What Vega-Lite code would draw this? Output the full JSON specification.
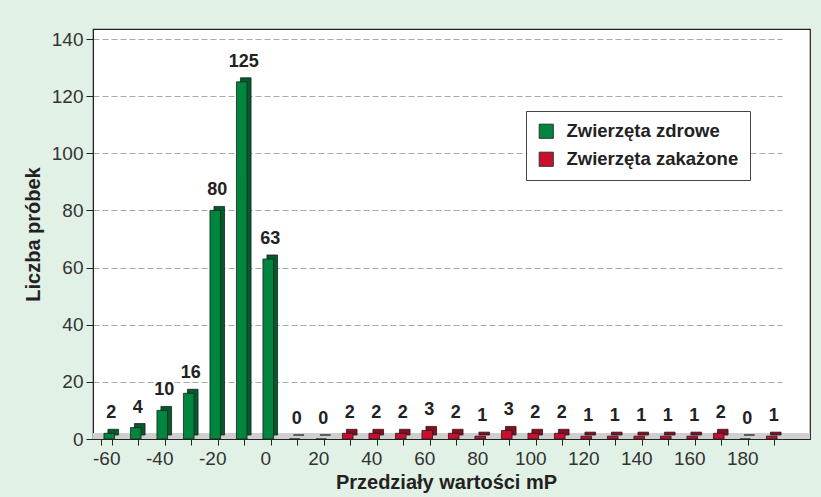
{
  "$schema": "https://vega.github.io/schema/vega-lite/v6.json",
  "autosize": {"type": "none"},
  "width": 717,
  "height": 410,
  "padding": {"left": 93, "top": 29, "right": 11, "bottom": 58},
  "background": "#e2f1e6",
  "config": {
    "font": "Liberation Sans",
    "view": {"fill": "white", "stroke": "#222222", "strokeWidth": 1.2}
  },
  "data": {
    "values": [
      {"bin": -60, "count": 2, "group": "Zwierzęta zdrowe"},
      {"bin": -50, "count": 4, "group": "Zwierzęta zdrowe"},
      {"bin": -40, "count": 10, "group": "Zwierzęta zdrowe"},
      {"bin": -30, "count": 16, "group": "Zwierzęta zdrowe"},
      {"bin": -20, "count": 80, "group": "Zwierzęta zdrowe"},
      {"bin": -10, "count": 125, "group": "Zwierzęta zdrowe"},
      {"bin": 0, "count": 63, "group": "Zwierzęta zdrowe"},
      {"bin": 10, "count": 0, "group": "Zwierzęta zakażone"},
      {"bin": 20, "count": 0, "group": "Zwierzęta zakażone"},
      {"bin": 30, "count": 2, "group": "Zwierzęta zakażone"},
      {"bin": 40, "count": 2, "group": "Zwierzęta zakażone"},
      {"bin": 50, "count": 2, "group": "Zwierzęta zakażone"},
      {"bin": 60, "count": 3, "group": "Zwierzęta zakażone"},
      {"bin": 70, "count": 2, "group": "Zwierzęta zakażone"},
      {"bin": 80, "count": 1, "group": "Zwierzęta zakażone"},
      {"bin": 90, "count": 3, "group": "Zwierzęta zakażone"},
      {"bin": 100, "count": 2, "group": "Zwierzęta zakażone"},
      {"bin": 110, "count": 2, "group": "Zwierzęta zakażone"},
      {"bin": 120, "count": 1, "group": "Zwierzęta zakażone"},
      {"bin": 130, "count": 1, "group": "Zwierzęta zakażone"},
      {"bin": 140, "count": 1, "group": "Zwierzęta zakażone"},
      {"bin": 150, "count": 1, "group": "Zwierzęta zakażone"},
      {"bin": 160, "count": 1, "group": "Zwierzęta zakażone"},
      {"bin": 170, "count": 2, "group": "Zwierzęta zakażone"},
      {"bin": 180, "count": 0, "group": "Zwierzęta zakażone"},
      {"bin": 190, "count": 1, "group": "Zwierzęta zakażone"}
    ]
  },
  "encoding": {
    "x": {
      "field": "bin",
      "type": "ordinal",
      "scale": {"range": [0, 689], "paddingInner": 0.6, "paddingOuter": 0.3},
      "axis": {
        "title": "Przedziały wartości mP",
        "titleFontSize": 20,
        "titleFontWeight": "bold",
        "titleColor": "#222222",
        "titlePadding": 4,
        "titleX": 353,
        "labelAngle": 0,
        "labelFontSize": 19,
        "labelColor": "#333333",
        "labelPadding": 4,
        "labelExpr": "datum.value % 20 === 0 ? datum.label : ''",
        "tickBand": "extent",
        "tickSize": 6,
        "tickColor": "#222222",
        "domainColor": "#222222",
        "grid": false
      }
    },
    "y": {
      "field": "count",
      "type": "quantitative",
      "scale": {"domain": [0, 143.5], "nice": false},
      "axis": {
        "title": "Liczba próbek",
        "titleFontSize": 20,
        "titleFontWeight": "bold",
        "titleColor": "#222222",
        "titlePadding": 8,
        "values": [0, 20, 40, 60, 80, 100, 120, 140],
        "labelFontSize": 19,
        "labelColor": "#333333",
        "labelPadding": 3,
        "tickSize": 7,
        "tickColor": "#222222",
        "domainColor": "#222222",
        "grid": true,
        "gridColor": "#a8a8a8",
        "gridDash": [6, 3],
        "gridWidth": 1
      }
    }
  },
  "layer": [
    {
      "mark": {"type": "rule", "color": "#cfcfcf", "strokeWidth": 6, "yOffset": -3},
      "encoding": {"y": {"datum": 0}, "x": null}
    },
    {
      "mark": {"type": "bar", "xOffset": 7, "yOffset": -4, "stroke": "#1e1e1e", "strokeWidth": 0.8},
      "encoding": {
        "color": {
          "field": "group",
          "type": "nominal",
          "scale": {"domain": ["Zwierzęta zdrowe", "Zwierzęta zakażone"], "range": ["#005c2b", "#8b0b1f"]},
          "legend": null
        }
      }
    },
    {
      "mark": {"type": "bar", "xOffset": 3, "stroke": "#1e1e1e", "strokeWidth": 0.8},
      "encoding": {
        "color": {
          "field": "group",
          "type": "nominal",
          "scale": {"domain": ["Zwierzęta zdrowe", "Zwierzęta zakażone"], "range": ["#00853e", "#c8102e"]},
          "legend": {
            "title": null,
            "orient": "none",
            "legendX": 433,
            "legendY": 82,
            "fillColor": "white",
            "strokeColor": "#444444",
            "padding": 11,
            "labelFontSize": 18.5,
            "labelFontWeight": "bold",
            "labelColor": "#222222",
            "labelLimit": 400,
            "labelOffset": 11,
            "symbolType": "square",
            "symbolSize": 200,
            "symbolStrokeColor": "#333333",
            "symbolStrokeWidth": 1,
            "symbolOpacity": 1,
            "rowPadding": 9
          }
        }
      }
    },
    {
      "mark": {"type": "text", "fontSize": 18, "fontWeight": "bold", "color": "#222222", "baseline": "alphabetic", "dy": -15, "xOffset": 5},
      "encoding": {"text": {"field": "count", "type": "quantitative"}}
    }
  ],
  "resolve": {"scale": {"color": "independent"}}
}
